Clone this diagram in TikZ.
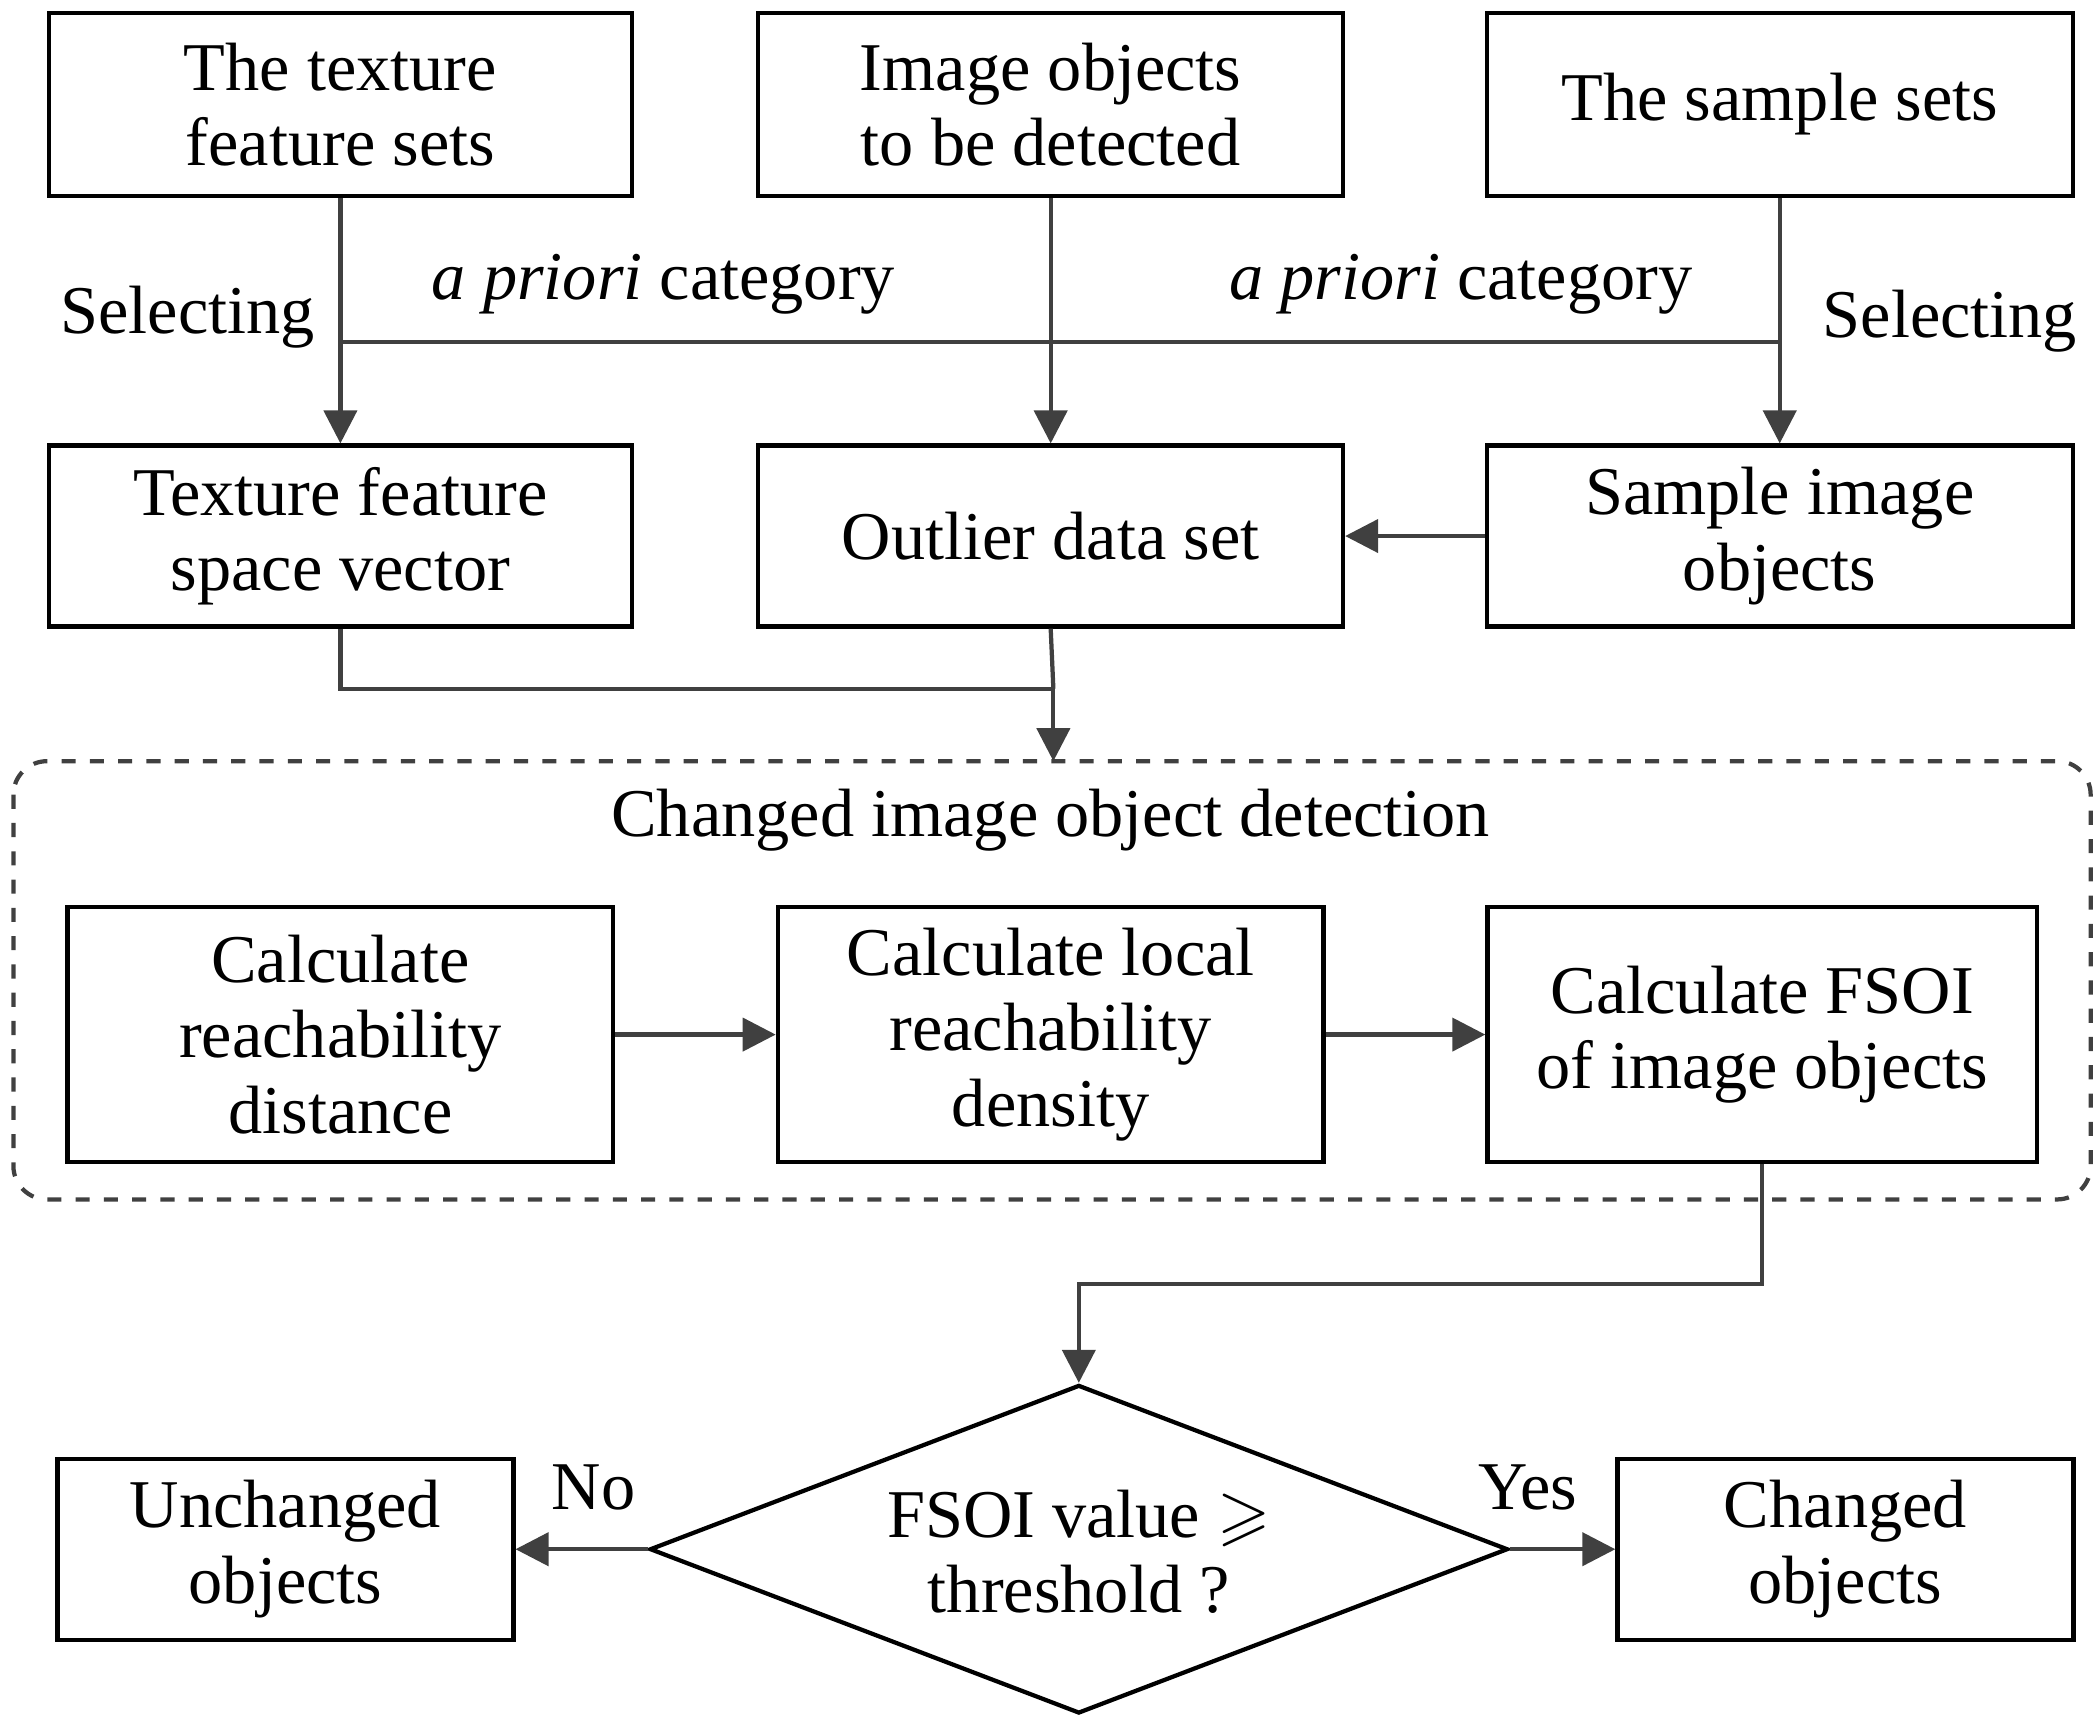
\documentclass[tikz,border=0pt]{standalone}
\usepackage{amssymb}
\usepackage{fontspec}
\setmainfont{Liberation Serif}
\usetikzlibrary{arrows.meta,shapes.geometric}
\begin{document}
\begin{tikzpicture}[x=0.01cm,y=-0.01cm,
  every node/.style={font=\fontsize{14.5pt}{16pt}\selectfont},
  box/.style={draw=black,line width=0.9pt,inner sep=0pt,align=center},
  ln/.style={draw=black!75,line width=0.9pt},
  arr/.style={ln,-{Triangle[length=7pt,width=7pt]}}]
\useasboundingbox (0,0) rectangle (1564,1280);
\node[box,minimum width=4.35cm,minimum height=1.37cm] (t1) at (254,78) {The texture\\feature sets};
\node[box,minimum width=4.36cm,minimum height=1.37cm] (t2) at (784,78) {Image objects\\to be detected};
\node[box,minimum width=4.37cm,minimum height=1.37cm] (t3) at (1328,78) {The sample sets};
\node[box,minimum width=4.35cm,minimum height=1.35cm] (m1) at (254,400) {Texture feature\\space vector};
\node[box,minimum width=4.36cm,minimum height=1.35cm] (m2) at (784,400) {Outlier data set};
\node[box,minimum width=4.37cm,minimum height=1.35cm] (m3) at (1328,400) {Sample image\\objects};
\draw[draw=black!75,line width=0.9pt,dashed,rounded corners=0.25cm] (10,568) rectangle (1560,895);
\node (title) at (784,612) {Changed image object detection};
\node[box,minimum width=4.07cm,minimum height=1.9cm] (c1) at (254,772) {Calculate\\reachability\\distance};
\node[box,minimum width=4.07cm,minimum height=1.9cm] (c2) at (784,772) {Calculate local\\reachability\\density};
\node[box,minimum width=4.1cm,minimum height=1.9cm] (c3) at (1315,772) {Calculate FSOI\\of image objects};
\node[box,diamond,aspect=2.6,minimum width=6.4cm,minimum height=2.45cm] (d) at (805,1156) {};
\node[align=center] (dt) at (805,1158) {FSOI value $\geqslant$\\threshold ?};
\node[box,minimum width=3.4cm,minimum height=1.35cm] (u) at (213,1156) {Unchanged\\objects};
\node[box,minimum width=3.4cm,minimum height=1.35cm] (ch) at (1377,1156) {Changed\\objects};
\coordinate (j1) at (254,255); \coordinate (j3) at (1328,255);
\draw[arr] (t1) -- (m1);
\draw[arr] (t2) -- (m2);
\draw[arr] (t3) -- (m3);
\draw[ln] (j1) -- (j3);
\node (s1) at (140,237) {Selecting};
\node (s2) at (1455,240) {Selecting};
\node (p1) at (495,212) {\textit{a priori} category};
\node (p2) at (1090,212) {\textit{a priori} category};
\draw[arr] (m3) -- (m2);
\coordinate (k) at (786,514);
\draw[ln] (m1.south) |- (k);
\draw[ln] (m2.south) -- (k);
\draw[arr] (k) -- (786,568);
\draw[arr] (c1) -- (c2);
\draw[arr] (c2) -- (c3);
\draw[arr] (c3.south) |- (805,958) -- (d.north);
\draw[arr] (d.west) -- (u.east);
\draw[arr] (d.east) -- (ch.west);
\node (no) at (443,1110) {No};
\node (yes) at (1140,1110) {Yes};
\end{tikzpicture}
\end{document}
